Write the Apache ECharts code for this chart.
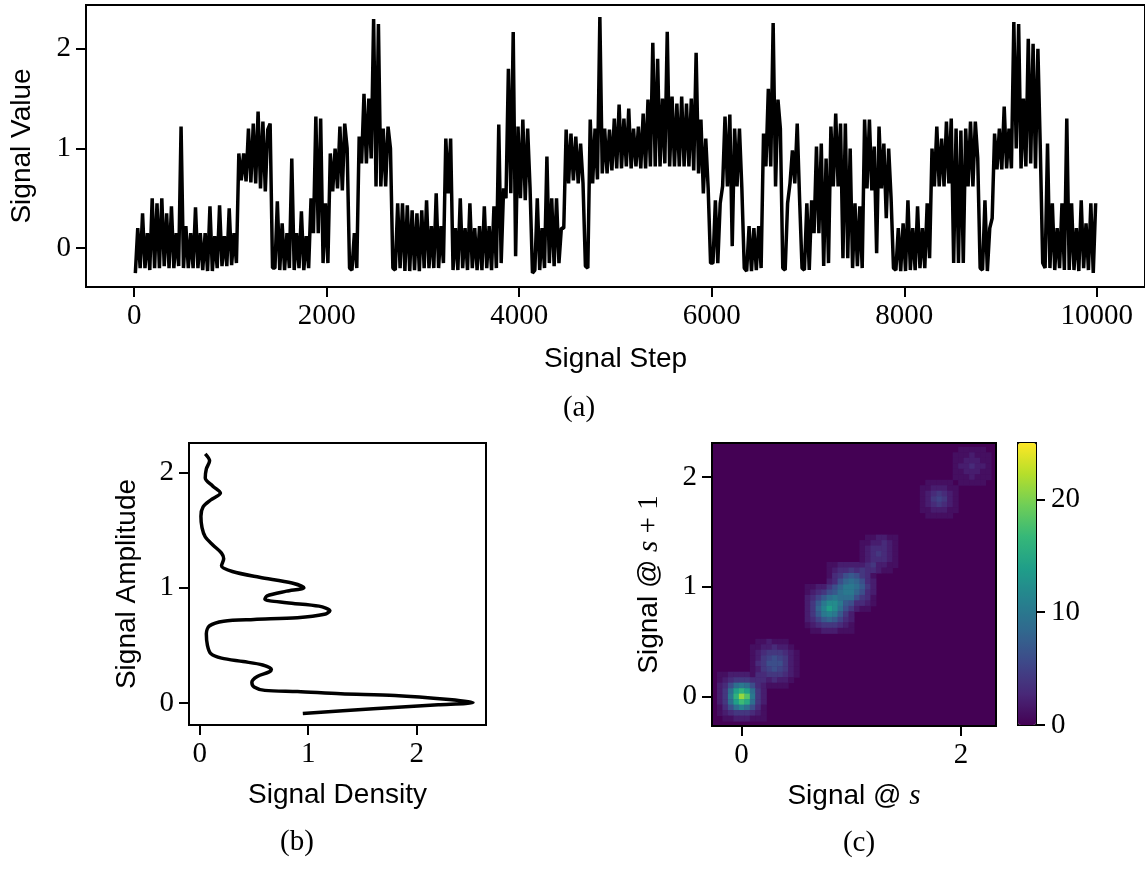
<!DOCTYPE html>
<html>
<head>
<meta charset="utf-8">
<script src="https://cdn.jsdelivr.net/npm/echarts@6/dist/echarts.min.js"></script>
<style>
  html, body { margin: 0; padding: 0; background: #fff; }
  #chart { width: 1145px; height: 872px; }
</style>
</head>
<body>
<div id="chart"></div>
<script>
// (a) signal: for every 50-step window, the two extremes of the trace, in the order they occur
const signalPairs = [
  [-0.25, 0.2], [-0.2, 0.35], [-0.2, 0.15], [-0.22, 0.5], [-0.2, 0.45], [-0.2, 0.5], [-0.18, 0.35], [-0.2, 0.42], [-0.2, 0.15], [-0.18, 1.22],
  [-0.2, 0.22], [-0.2, 0.15], [-0.2, 0.41], [-0.2, 0.15], [-0.22, 0.15], [-0.23, 0.42], [-0.23, 0.12], [-0.2, 0.43], [-0.18, 0.12], [-0.18, 0.4],
  [-0.17, 0.15], [-0.15, 0.95], [0.68, 0.95], [0.67, 1.2], [0.66, 1.25], [0.65, 1.37], [0.6, 1.27], [0.57, 1.19], [1.25, -0.2], [-0.2, 0.47],
  [-0.22, 0.25], [-0.22, 0.15], [-0.2, 0.9], [-0.22, 0.15], [-0.2, 0.37], [-0.22, 0.12], [-0.2, 0.5], [0.15, 1.32], [0.15, 1.3], [-0.15, 0.45],
  [-0.15, 0.95], [0.57, 1.0], [0.6, 1.22], [0.58, 1.25], [1.0, -0.2], [-0.22, 0.15], [-0.2, 1.12], [0.85, 1.55], [0.85, 1.5], [0.9, 2.3],
  [0.62, 2.25], [0.62, 1.2], [0.62, 1.22], [1.0, -0.2], [-0.22, 0.45], [-0.2, 0.45], [-0.23, 0.43], [-0.23, 0.38], [-0.22, 0.35], [-0.23, 0.38],
  [-0.2, 0.48], [-0.2, 0.22], [-0.2, 0.55], [-0.2, 0.22], [-0.15, 1.1], [0.55, 1.1], [-0.22, 0.2], [-0.22, 0.5], [-0.2, 0.2], [-0.22, 0.45],
  [-0.2, 0.2], [-0.22, 0.22], [-0.22, 0.42], [-0.2, 0.22], [-0.22, 0.42], [-0.2, 1.24], [-0.15, 0.6], [0.5, 1.8], [0.55, 2.17], [-0.08, 1.22],
  [0.5, 1.29], [0.48, 1.2], [0.6, -0.25], [-0.22, 0.5], [-0.22, 0.2], [-0.2, 0.92], [-0.15, 0.5], [-0.18, 0.5], [-0.15, 0.2], [0.2, 1.19],
  [0.65, 1.15], [0.68, 1.12], [0.65, 1.05], [0.65, -0.18], [-0.2, 1.29], [0.65, 1.2], [0.69, 2.32], [0.75, 1.2], [0.75, 1.19], [0.78, 1.3],
  [0.8, 1.44], [0.8, 1.3], [0.82, 1.4], [0.8, 1.2], [0.82, 1.22], [0.8, 1.35], [0.8, 1.49], [0.82, 2.06], [0.82, 1.9], [0.82, 1.5],
  [0.85, 2.17], [0.82, 1.52], [0.82, 1.45], [0.82, 1.52], [0.82, 1.45], [0.82, 1.5], [0.78, 1.96], [0.75, 1.29], [0.55, 1.1], [0.6, -0.15],
  [-0.15, 0.48], [-0.15, 0.45], [0.62, 1.32], [0.62, 1.34], [0.02, 1.2], [0.62, 1.2], [0.6, -0.2], [-0.23, 0.22], [-0.23, 0.2], [-0.22, 0.22],
  [-0.2, 1.15], [0.82, 1.6], [0.82, 2.26], [0.62, 1.49], [1.2, -0.2], [-0.22, 0.45], [0.65, 0.98], [0.65, 1.25], [0.48, -0.2], [-0.22, 0.45],
  [-0.22, 0.48], [0.15, 1.02], [0.15, 1.05], [-0.18, 0.9], [-0.15, 1.22], [0.62, 1.35], [0.62, 1.25], [-0.1, 1.25], [-0.1, 1.0], [-0.2, 0.45],
  [-0.18, 0.42], [-0.2, 1.29], [0.6, 1.29], [0.58, 1.02], [-0.05, 1.22], [0.6, 1.05], [0.3, 1.0], [0.5, -0.2], [-0.22, 0.2], [-0.23, 0.25],
  [-0.23, 0.48], [-0.22, 0.2], [-0.22, 0.42], [-0.2, 0.2], [-0.2, 0.45], [-0.1, 1.0], [0.62, 1.22], [0.62, 1.1], [0.62, 1.27], [0.65, 1.3],
  [-0.15, 1.2], [-0.15, 1.18], [-0.15, 1.2], [0.62, 1.27], [0.62, 1.27], [0.9, -0.2], [-0.22, 0.48], [-0.23, 0.2], [0.3, 1.15], [0.79, 1.2],
  [0.79, 1.42], [0.8, 1.2], [0.8, 2.27], [1.0, 2.25], [0.8, 1.5], [0.82, 2.1], [0.85, 2.05], [0.8, 2.0], [1.0, -0.15], [-0.2, 1.05],
  [-0.2, 0.45], [-0.22, 0.2], [-0.2, 0.45], [-0.22, 1.3], [-0.22, 0.45], [-0.22, 0.2], [-0.23, 0.48], [-0.2, 0.25], [-0.22, 0.45], [-0.25, 0.45]
];
const windowSize = 50;
const stepTicks = [0, 2000, 4000, 6000, 8000, 10000];
const unitTicks = [0, 1, 2];

// (b) density curve, traced point by point
const densityX = [
  0.95, 1.6, 2.2, 2.52, 2.3, 1.8, 1.3, 0.9, 0.6, 0.5, 0.48, 0.53, 0.64, 0.66, 0.58, 0.4, 0.2, 0.1, 0.07, 0.06,
  0.09, 0.22, 0.5, 0.9, 1.15, 1.2, 1.1, 0.8, 0.6, 0.62, 0.8, 0.96, 0.85, 0.55, 0.3, 0.2, 0.22, 0.2, 0.12, 0.05,
  0.02, 0.01, 0.03, 0.1, 0.19, 0.12, 0.05, 0.06, 0.09, 0.05
];
const amplitudeY = [
  -0.09, -0.05, -0.015, 0.005, 0.03, 0.065, 0.08, 0.1, 0.11, 0.14, 0.18, 0.23, 0.27, 0.29, 0.33, 0.36, 0.39, 0.43, 0.5, 0.6,
  0.67, 0.71, 0.725, 0.74, 0.77, 0.8, 0.84, 0.87, 0.9, 0.93, 0.97, 1.0, 1.04, 1.09, 1.14, 1.19, 1.25, 1.3, 1.37, 1.44,
  1.52, 1.62, 1.7, 1.76, 1.82, 1.88, 1.95, 2.03, 2.1, 2.16
];

// (c) 2d histogram: counts around each cluster, 0.05 bins, rows top to bottom
const blobCenters = [[0, 0], [0.3, 0.3], [0.8, 0.8], [1.0, 1.0], [1.25, 1.3], [1.8, 1.8], [2.1, 2.1]];
const blobA = [
  [1, 1, 2, 2, 2, 2, 1, 1, 0],
  [1, 2, 3, 4, 4, 4, 3, 2, 1],
  [2, 3, 6, 9, 10, 9, 6, 3, 1],
  [2, 4, 9, 14, 16, 14, 9, 4, 2],
  [2, 4, 10, 16, 21, 18, 10, 4, 2],
  [2, 4, 9, 14, 17, 15, 9, 4, 2],
  [1, 3, 6, 9, 11, 9, 6, 3, 1],
  [1, 2, 3, 4, 4, 4, 3, 2, 1],
  [0, 1, 1, 2, 2, 2, 1, 1, 1]
];
const blobB = [
  [0, 1, 1, 2, 1, 1, 1, 0, 0],
  [1, 1, 2, 2, 3, 2, 2, 1, 0],
  [1, 2, 3, 4, 4, 4, 3, 2, 1],
  [1, 2, 4, 5, 6, 5, 4, 2, 1],
  [1, 3, 4, 6, 6, 6, 4, 2, 1],
  [1, 2, 4, 5, 6, 5, 4, 2, 1],
  [0, 2, 3, 4, 4, 4, 3, 2, 1],
  [0, 1, 2, 2, 3, 2, 2, 1, 0],
  [0, 0, 1, 1, 1, 1, 1, 0, 0]
];
const blobC = [
  [1, 1, 2, 2, 2, 2, 1, 1, 0],
  [1, 2, 3, 4, 4, 4, 3, 2, 1],
  [2, 3, 5, 7, 8, 7, 5, 3, 2],
  [2, 4, 7, 10, 11, 10, 7, 4, 2],
  [2, 4, 8, 11, 13, 11, 8, 4, 2],
  [2, 4, 7, 10, 11, 10, 7, 4, 2],
  [2, 3, 5, 7, 8, 7, 5, 3, 2],
  [1, 2, 3, 4, 4, 4, 3, 2, 1],
  [0, 1, 1, 2, 2, 2, 1, 1, 1]
];
const blobD = [
  [1, 1, 2, 2, 2, 2, 1, 1, 1],
  [1, 2, 3, 3, 4, 3, 3, 2, 1],
  [1, 3, 4, 6, 7, 6, 4, 3, 1],
  [2, 3, 6, 8, 9, 8, 6, 3, 2],
  [2, 4, 7, 9, 10, 9, 7, 4, 2],
  [2, 3, 6, 8, 9, 8, 6, 3, 2],
  [1, 3, 4, 6, 7, 6, 4, 3, 1],
  [1, 2, 3, 3, 4, 3, 3, 2, 1],
  [1, 1, 1, 2, 2, 2, 1, 1, 0]
];
const blobE = [
  [0, 1, 1, 2, 2, 1, 1],
  [1, 1, 2, 2, 3, 2, 1],
  [1, 2, 3, 3, 3, 2, 1],
  [1, 2, 3, 4, 3, 2, 1],
  [1, 2, 3, 3, 3, 2, 1],
  [1, 2, 3, 2, 2, 1, 1],
  [1, 1, 2, 2, 1, 1, 0]
];
const blobF = [
  [0, 1, 1, 1, 1, 1, 0],
  [1, 1, 2, 2, 2, 1, 1],
  [1, 2, 3, 4, 3, 2, 1],
  [1, 2, 4, 5, 4, 2, 1],
  [1, 2, 3, 4, 3, 2, 1],
  [1, 1, 2, 2, 2, 1, 1],
  [0, 1, 1, 1, 1, 1, 0]
];
const blobG = [
  [0, 1, 1, 1, 1, 1, 0],
  [1, 1, 1, 2, 1, 1, 1],
  [1, 1, 2, 2, 2, 1, 1],
  [1, 2, 2, 3, 2, 2, 1],
  [1, 1, 2, 2, 2, 1, 1],
  [1, 1, 1, 2, 1, 1, 1],
  [0, 1, 1, 1, 1, 1, 0]
];
const colorbarTicks = [0, 10, 20];
const viridis = ['#440154', '#482878', '#3e4989', '#31688e', '#26828e', '#1f9e89', '#35b779', '#6ece58', '#b5de2b', '#fde725'];

// trace: both extremes of each window, a quarter and three quarters of the way in
const signalPoints = [];
signalPairs.forEach(([first, second], k) => {
  signalPoints.push([k * windowSize + windowSize * 0.25, first]);
  signalPoints.push([k * windowSize + windowSize * 0.75, second]);
});

const binW = 0.05;
const cellMap = new Map();
[blobA, blobB, blobC, blobD, blobE, blobF, blobG].forEach((grid, b) => {
  const [cx, cy] = blobCenters[b];
  const half = (grid.length - 1) / 2;
  grid.forEach((row, r) => row.forEach((v, c) => {
    if (!v) return;
    const i = Math.round(cx / binW) + c - half;
    const j = Math.round(cy / binW) + half - r;
    const key = i + ',' + j;
    cellMap.set(key, (cellMap.get(key) || 0) + v);
  }));
});
const heatCells = [...cellMap].map(([k, v]) => {
  const [i, j] = k.split(',').map(Number);
  return [i * binW, j * binW, v];
});

const serif = 'Liberation Serif';
const sans = 'Liberation Sans';
const black = '#000';

function axis(gridIndex, min, max, ticks, extra) {
  return Object.assign({
    type: 'value',
    gridIndex: gridIndex,
    min: min,
    max: max,
    axisLine: { show: true, onZero: false, lineStyle: { color: black, width: 2 } },
    axisTick: { show: true, length: 10, customValues: ticks, lineStyle: { color: black, width: 2 } },
    axisLabel: { customValues: ticks, formatter: (v) => String(v), color: black, fontFamily: serif, fontSize: 29, margin: 15 },
    splitLine: { show: false },
    nameLocation: 'middle',
    nameTextStyle: { fontFamily: sans, fontSize: 28, color: black }
  }, extra);
}

const frame = { show: true, borderColor: black, borderWidth: 2, backgroundColor: 'transparent' };

const chart = echarts.init(document.getElementById('chart'));
chart.setOption({
  backgroundColor: '#fff',
  animation: false,
  grid: [
    Object.assign({ left: 86, top: 5, width: 1062, height: 282 }, frame),
    Object.assign({ left: 189, top: 443, width: 297, height: 282 }, frame),
    Object.assign({ left: 712, top: 443, width: 284, height: 283 }, frame, { backgroundColor: '#440154' }),
    Object.assign({ left: 1018, top: 443, width: 18, height: 282 }, frame)
  ],
  xAxis: [
    axis(0, -500, 10500, stepTicks, { name: 'Signal Step', nameGap: 58 }),
    axis(1, -0.1, 2.64, unitTicks, { name: 'Signal Density', nameGap: 56 }),
    axis(2, -0.27, 2.32, [0, 2], {
      name: 'Signal @ {m|s}', nameGap: 56,
      nameTextStyle: { fontFamily: sans, fontSize: 28, color: black,
        rich: { m: { fontFamily: serif, fontStyle: 'italic', fontSize: 29, color: black } } }
    }),
    { type: 'value', gridIndex: 3, min: 0, max: 1, show: false }
  ],
  yAxis: [
    axis(0, -0.39, 2.44, unitTicks, { name: 'Signal Value', nameGap: 50, nameRotate: 90 }),
    axis(1, -0.19, 2.254, unitTicks, { name: 'Signal Amplitude', nameGap: 48, nameRotate: 90 }),
    axis(2, -0.27, 2.31, unitTicks, {
      name: 'Signal @ {m|s}{r| + 1}', nameGap: 48, nameRotate: 90,
      nameTextStyle: { fontFamily: sans, fontSize: 28, color: black,
        rich: {
          m: { fontFamily: serif, fontStyle: 'italic', fontSize: 29, color: black },
          r: { fontFamily: serif, fontSize: 29, color: black }
        } }
    }),
    axis(3, 0, 25, colorbarTicks, { position: 'right', axisTick: { show: true, length: 9, customValues: colorbarTicks, lineStyle: { color: black, width: 2 } } })
  ],
  visualMap: {
    type: 'continuous',
    min: 0,
    max: 25,
    dimension: 2,
    seriesIndex: 2,
    calculable: false,
    text: null,
    padding: 0,
    left: 1018,
    top: 443,
    itemWidth: 18,
    itemHeight: 282,
    inRange: { color: viridis }
  },
  series: [
    {
      type: 'line',
      xAxisIndex: 0,
      yAxisIndex: 0,
      data: signalPoints,
      symbol: 'none',
      lineStyle: { color: black, width: 3.5 },
      clip: true
    },
    {
      type: 'line',
      xAxisIndex: 1,
      yAxisIndex: 1,
      data: densityX.map((d, i) => [d, amplitudeY[i]]),
      symbol: 'none',
      smooth: 0.3,
      lineStyle: { color: black, width: 3.5 }
    },
    {
      type: 'custom',
      xAxisIndex: 2,
      yAxisIndex: 2,
      data: heatCells,
      encode: { x: 0, y: 1 },
      clip: true,
      renderItem: function (params, api) {
        const x = api.value(0);
        const y = api.value(1);
        const p0 = api.coord([x - binW / 2, y + binW / 2]);
        const p1 = api.coord([x + binW / 2, y - binW / 2]);
        return {
          type: 'rect',
          shape: { x: p0[0], y: p0[1], width: p1[0] - p0[0] + 0.5, height: p1[1] - p0[1] + 0.5 },
          style: { fill: api.visual('color') }
        };
      }
    }
  ],
  graphic: [
    { type: 'text', x: 579, y: 408, style: { text: '(a)', font: '29px "Liberation Serif"', fill: black, align: 'center', verticalAlign: 'middle' } },
    { type: 'text', x: 297, y: 842, style: { text: '(b)', font: '29px "Liberation Serif"', fill: black, align: 'center', verticalAlign: 'middle' } },
    { type: 'text', x: 859, y: 843, style: { text: '(c)', font: '29px "Liberation Serif"', fill: black, align: 'center', verticalAlign: 'middle' } }
  ]
});
window.addEventListener('resize', () => chart.resize());
</script>
</body>
</html>
